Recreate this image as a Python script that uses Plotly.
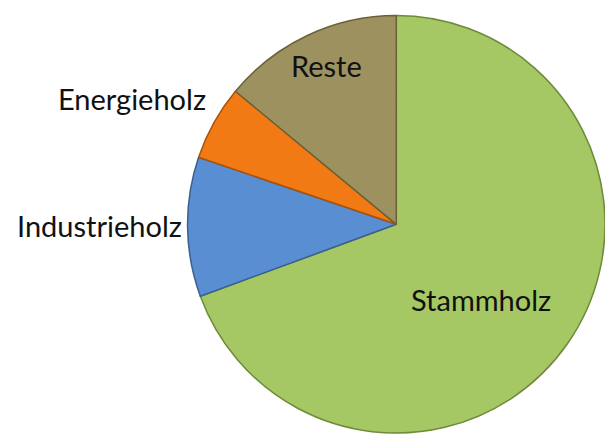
import plotly.graph_objects as go

# Anteile der Holzsortimente (%), im Uhrzeigersinn ab 12 Uhr
sorten = ["Stammholz", "Industrieholz", "Energieholz", "Reste"]
anteile = [69.4, 10.8, 5.8, 14.0]
farben = ["#A5C864", "#5A8ED2", "#F27A14", "#9E9160"]
randfarben = ["#6E8A3A", "#3B5F8E", "#A9520A", "#6A6138"]

fig = go.Figure(go.Pie(
    labels=sorten,
    values=anteile,
    sort=False,
    direction="clockwise",
    rotation=0,
    marker=dict(colors=farben, line=dict(color=randfarben, width=1.5)),
    textinfo="none",
    showlegend=False,
    hoverinfo="label+percent",
    domain=dict(x=[0.31, 1.0], y=[0.003, 0.968]),
))

# Beschriftungen wie im Original (innen bzw. links daneben)
beschriftung = {
    "Stammholz": (0.795, 0.312, "center"),
    "Industrieholz": (0.3045, 0.482, "right"),
    "Energieholz": (0.344, 0.773, "right"),
    "Reste": (0.539, 0.849, "center"),
}
for name, (bx, by, anker) in beschriftung.items():
    fig.add_annotation(x=bx, y=by, xref="paper", yref="paper", text=name,
                       showarrow=False, xanchor=anker, yanchor="middle",
                       font=dict(family="Lato", size=29, color="#111111"))

fig.update_layout(
    width=605, height=436,
    margin=dict(l=0, r=0, t=0, b=0),
    paper_bgcolor="white",
    plot_bgcolor="white",
    font=dict(family="Lato"),
)

fig.write_html("out.html", config={"displayModeBar": False},
               post_script="document.body.style.margin='0px';")
